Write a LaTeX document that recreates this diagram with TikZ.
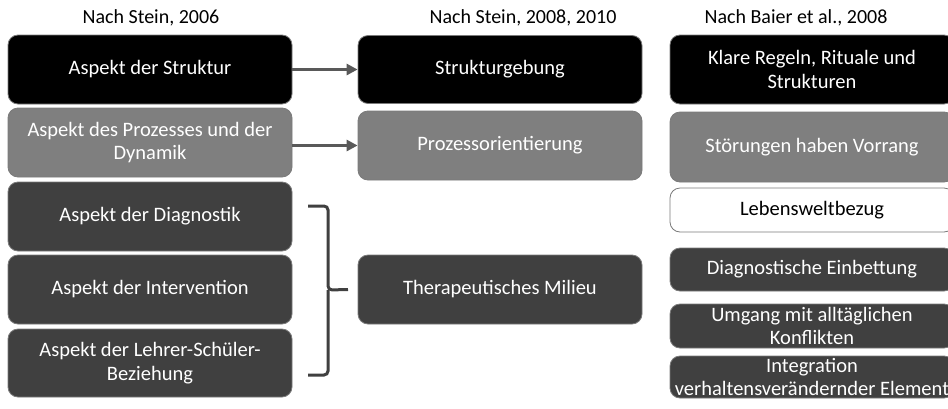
\documentclass[tikz,border=0pt]{standalone}
\usepackage{fontspec}
\setmainfont{Carlito}
\usetikzlibrary{arrows.meta}
\definecolor{cblack}{HTML}{000000}
\definecolor{cmid}{HTML}{7F7F7F}
\definecolor{cdark}{HTML}{404040}
\definecolor{cedge}{HTML}{7A7A7A}
\definecolor{carrow}{HTML}{595959}
\tikzset{
  box/.style={draw=cedge, line width=0.8pt, rounded corners=10pt, minimum width=284pt,
    text=white, align=center, inner sep=1pt, font=\fontsize{20.5}{23.5}\selectfont},
  title/.style={anchor=base, font=\fontsize{20}{24}\selectfont, text=black},
  conn/.style={draw=carrow, line width=3.2pt, -{Triangle[length=11pt,width=11pt]}},
  bracket/.style={draw=cdark, line width=3pt, rounded corners=4pt}
}
\begin{document}
\begin{tikzpicture}[x=1pt,y=-1pt]
\useasboundingbox (0,0) rectangle (948,408);
\fill[white] (0,0) rectangle (948,408);
% titles
\node[title] (t1) at (151,23) {Nach Stein, 2006};
\node[title] (t2) at (523,23) {Nach Stein, 2008, 2010};
\node[title] (t3) at (796,23) {Nach Baier et al., 2008};
% left column
\node[box, fill=cblack, minimum height=69pt] (L1) at (150,69.5) {Aspekt der Struktur};
\node[box, fill=cmid, minimum height=69pt] (L2) at (150,142.5) {Aspekt des Prozesses und der\\Dynamik};
\node[box, fill=cdark, minimum height=69pt] (L3) at (150,216.5) {Aspekt der Diagnostik};
\node[box, fill=cdark, minimum height=69pt] (L4) at (150,289.5) {Aspekt der Intervention};
\node[box, fill=cdark, minimum height=68pt] (L5) at (150,363) {Aspekt der Lehrer-Schüler-\\Beziehung};
% middle column
\node[box, fill=cblack, minimum height=68pt] (M1) at (500,69.5) {Strukturgebung};
\node[box, fill=cmid, minimum height=69pt] (M2) at (500,145.5) {Prozessorientierung};
\node[box, fill=cdark, minimum height=69pt] (M3) at (500,289.5) {Therapeutisches Milieu};
% right column
\node[box, fill=cblack, minimum height=69pt] (R1) at (812,69.5) {Klare Regeln, Rituale und\\Strukturen};
\node[box, fill=cmid, minimum height=70pt] (R2) at (812,147) {Störungen haben Vorrang};
\node[box, fill=white, text=black, minimum height=44pt] (R3) at (812,210) {Lebensweltbezug};
\node[box, fill=cdark, minimum height=43pt] (R4) at (812,269.5) {Diagnostische Einbettung};
\node[box, fill=cdark, minimum height=44pt] (R5) at (812,326) {Umgang mit alltäglichen\\Konflikten};
\node[box, fill=cdark, minimum height=42pt] (R6) at (812,377) {Integration\\verhaltensverändernder Element};
% arrows
\draw[conn] (L1.east) -- (L1.east -| M1.west);
\draw[conn] (L2.east |- M2.west) -- (M2.west);
% bracket
\coordinate (bt) at (308,206);
\coordinate (bb) at (308,375);
\coordinate (bx) at (328,290);
\coordinate (btip) at (M3.west -| 348,0);
\draw[bracket] (bt) -- (bt -| bx) -- (bx) -- (btip);
\draw[bracket] (bb) -- (bb -| bx) -- (bx);
\end{tikzpicture}
\end{document}
